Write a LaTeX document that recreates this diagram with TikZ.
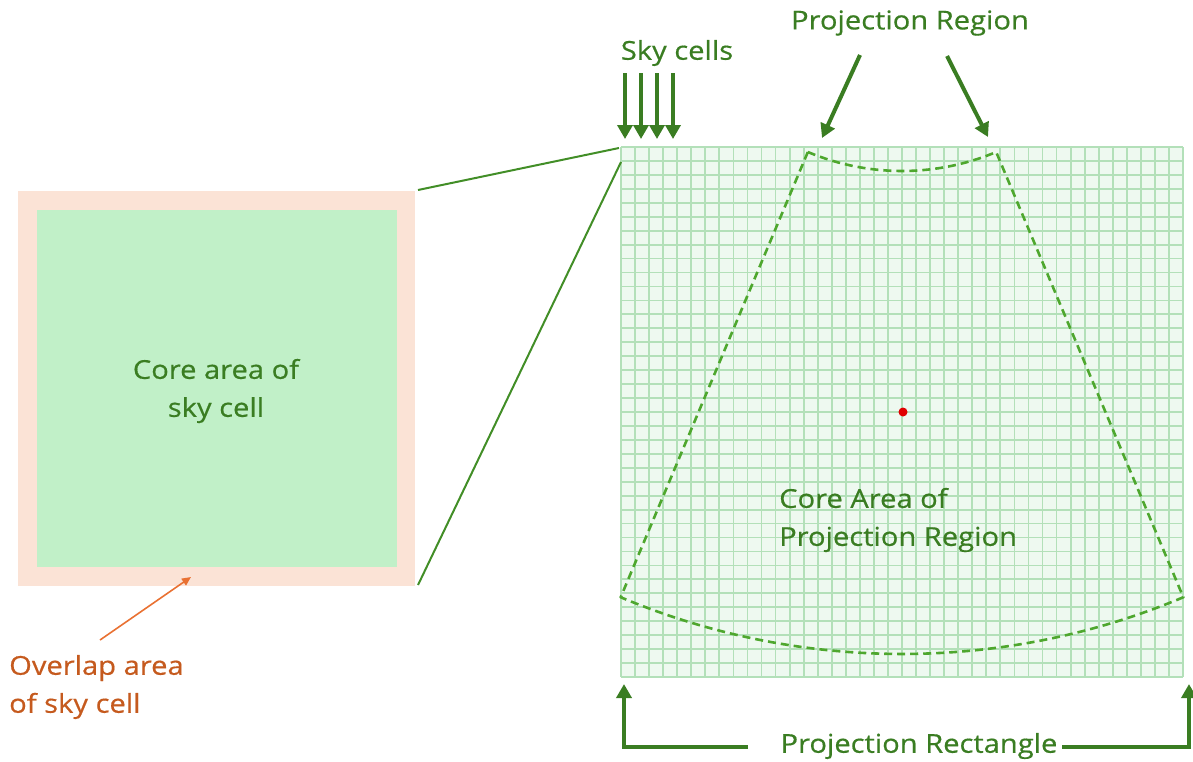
\documentclass[tikz,border=0pt]{standalone}
\usepackage{fontspec}
\setmainfont{Open Sans}[FakeStretch=1.12, FakeBold=0.5]
\usetikzlibrary{arrows.meta,calc}
\definecolor{dgreen}{HTML}{3A7D22}
\definecolor{mgreen}{HTML}{4EA72E}
\definecolor{pinkfill}{HTML}{FBE3D6}
\definecolor{corefill}{HTML}{C1F0C8}
\definecolor{gridbg}{HTML}{EEF9F0}
\definecolor{gridln}{HTML}{B3E0B9}
\definecolor{otext}{HTML}{C55A1E}
\definecolor{oarrow}{HTML}{E97132}
\definecolor{reddot}{HTML}{E00000}
\tikzset{
  lbl/.style={text=dgreen, font=\fontsize{26}{38}\selectfont, align=center, inner sep=0pt},
  olbl/.style={text=otext, font=\fontsize{26}{38}\selectfont, align=left, inner sep=0pt},
  bigarrow/.style={draw=dgreen, line width=4, -{Triangle[width=15,length=14]}},
  zoomline/.style={draw=mgreen!85!black, line width=2},
  gridline/.style={draw=gridln, line width=1.8},
  fan/.style={draw=mgreen, line width=2.6, dash pattern=on 8 off 5, line join=round},
  oarrowst/.style={draw=oarrow, line width=1.6, -{Triangle[width=8,length=9]}}
}
\begin{document}
\begin{tikzpicture}[x=1pt,y=-1pt]
\useasboundingbox (0,0) rectangle (1193,761);
% left sky cell
\fill[pinkfill] (18,191) rectangle (415,586);
\fill[corefill] (37,210) rectangle (397,567);
\node[lbl] (core) at (216,391) {Core area of\\sky cell};
\coordinate (boxTR) at (418,190);
\coordinate (boxBR) at (418,585);
% grid
\fill[gridbg] (621,147) rectangle (1183,677);
\foreach \i in {0,...,40} \draw[gridline] ({621+\i*14.05},147) -- ++(0,530);
\foreach \j in {0,...,38} \draw[gridline] (621,{147+\j*13.947}) -- ++(562,0);
\coordinate (gridTL) at (619,148);
\coordinate (gridL) at (621,162);
\draw[zoomline] (boxTR) -- (gridTL);
\draw[zoomline] (boxBR) -- (gridL);
% fan shaped projection region
\coordinate (apex) at (902,-72);
\draw[fan] ($(apex)+(112.8:243)$) coordinate (tl) arc[start angle=112.8, end angle=67.2, radius=243] coordinate (tr)
  -- ($(apex)+(67.2:726)$) coordinate (br) arc[start angle=67.2, end angle=112.8, radius=726] coordinate (bl) -- cycle;
\fill[reddot] (903,412) circle (4.5);
\node[lbl, align=left, anchor=west] (corep) at (779,520) {Core Area of\\Projection Region};
% sky cells
\node[lbl] (sky) at (677,53) {Sky cells};
\foreach \x [count=\k] in {625,641,657,673} {
  \coordinate (s\k) at (\x,73);
  \coordinate (t\k) at (\x,139);
  \draw[bigarrow] (s\k) -- (t\k);
}
% projection region
\node[lbl] (pr) at (910,23) {Projection Region};
\coordinate (prA) at (860,55);
\coordinate (prAt) at (822,138);
\coordinate (prB) at (947,56);
\coordinate (prBt) at (988,137);
\draw[bigarrow] (prA) -- (prAt);
\draw[bigarrow] (prB) -- (prBt);
% projection rectangle
\node[lbl] (rect) at (919,746) {Projection Rectangle};
\coordinate (rl) at (748,747);
\coordinate (rr) at (1062,747);
\draw[bigarrow] (rl) -- (624,747) -- (624,684);
\draw[bigarrow] (rr) -- (1189,747) -- (1189,684);
% overlap
\node[olbl, anchor=west] (ov) at (9,687) {Overlap area\\of sky cell};
\coordinate (ovs) at (100,640);
\coordinate (ovt) at (191,577);
\draw[oarrowst] (ovs) -- (ovt);
\end{tikzpicture}
\end{document}
